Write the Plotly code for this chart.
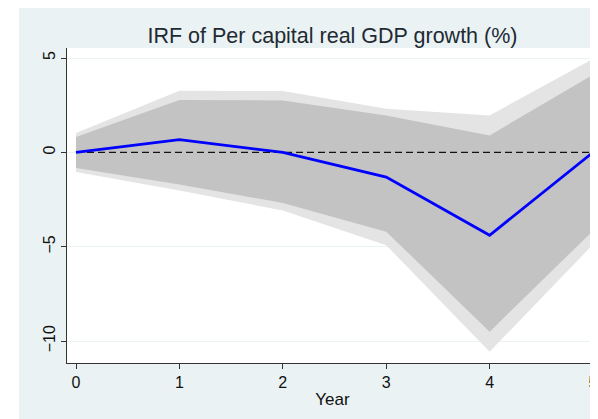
import plotly.graph_objects as go

# IRF estimates by step (year)
steps = [0, 1, 2, 3, 4, 5]
irf = [0.0, 0.67, 0.0, -1.31, -4.39, 0.0]

# confidence bands
inner_upper = [0.81, 2.78, 2.75, 1.96, 0.90, 4.11]
inner_lower = [-0.83, -1.70, -2.68, -4.20, -9.50, -4.15]
outer_upper = [1.03, 3.26, 3.25, 2.31, 1.96, 4.96]
outer_lower = [-1.04, -2.02, -3.08, -4.92, -10.56, -4.88]

y_ticks = [5, 0, -5, -10]
title = 'IRF of Per capital real GDP growth (%)'
x_title = 'Year'

bg = '#EAF2F3'
font = 'Liberation Sans, Arial, sans-serif'

# the page puts the figure 8px in from the top-left corner;
# the figure runs a little past the window on the right
W, H = 598, 411
ml, mr, mt, mb = 59, 8, 40, 56
pw = W - ml - mr
ph = H - mt - mb

fig = go.Figure()

# outer band
fig.add_trace(go.Scatter(
    x=steps + steps[::-1],
    y=outer_upper + outer_lower[::-1],
    fill='toself', fillcolor='#E4E4E4',
    line=dict(width=0), mode='lines', hoverinfo='skip', showlegend=False
))
# inner band
fig.add_trace(go.Scatter(
    x=steps + steps[::-1],
    y=inner_upper + inner_lower[::-1],
    fill='toself', fillcolor='#C3C3C3',
    line=dict(width=0), mode='lines', hoverinfo='skip', showlegend=False
))
# zero reference line
fig.add_trace(go.Scatter(
    x=[steps[0], steps[-1]], y=[0, 0], mode='lines',
    line=dict(color='#111111', width=1.3, dash='7px,4px'),
    hoverinfo='skip', showlegend=False
))
# irf
fig.add_trace(go.Scatter(
    x=steps, y=irf, mode='lines',
    line=dict(color='#0000FF', width=2.8),
    showlegend=False
))

# white strip on the left of the graph region
fig.add_shape(type='rect', xref='paper', yref='paper', layer='below',
              x0=-ml / pw, x1=(11 - ml) / pw, y0=-mb / ph, y1=(H - mb) / ph,
              fillcolor='white', line=dict(width=0))

fig.update_layout(
    width=W, height=H,
    margin=dict(l=ml, r=mr, t=mt, b=mb),
    paper_bgcolor=bg, plot_bgcolor='white',
    font=dict(family=font, color='#1a1a1a'),
    title=dict(text=title, x=0.5, xref='paper', xanchor='center',
               y=1 - 27 / H, yanchor='middle',
               font=dict(size=21.5, color='#1f2a33', family=font)),
    xaxis=dict(
        range=[-0.087, 5.048], tickvals=steps, ticks='outside', ticklen=5,
        tickcolor='#333', showline=True, linecolor='#333', linewidth=1,
        showgrid=False, zeroline=False,
        tickfont=dict(size=16, color='#111'),
        title=dict(text=x_title, font=dict(size=17, color='#111'), standoff=2),
    ),
    yaxis=dict(
        range=[-11.16, 5.53], tickvals=y_ticks, ticks='outside', ticklen=5,
        tickcolor='#333', showline=True, linecolor='#333', linewidth=1,
        showgrid=True, gridcolor=bg, gridwidth=1, zeroline=False,
        tickangle=-90, tickfont=dict(size=16, color='#111'),
    ),
)

fig.write_html('out.html')
